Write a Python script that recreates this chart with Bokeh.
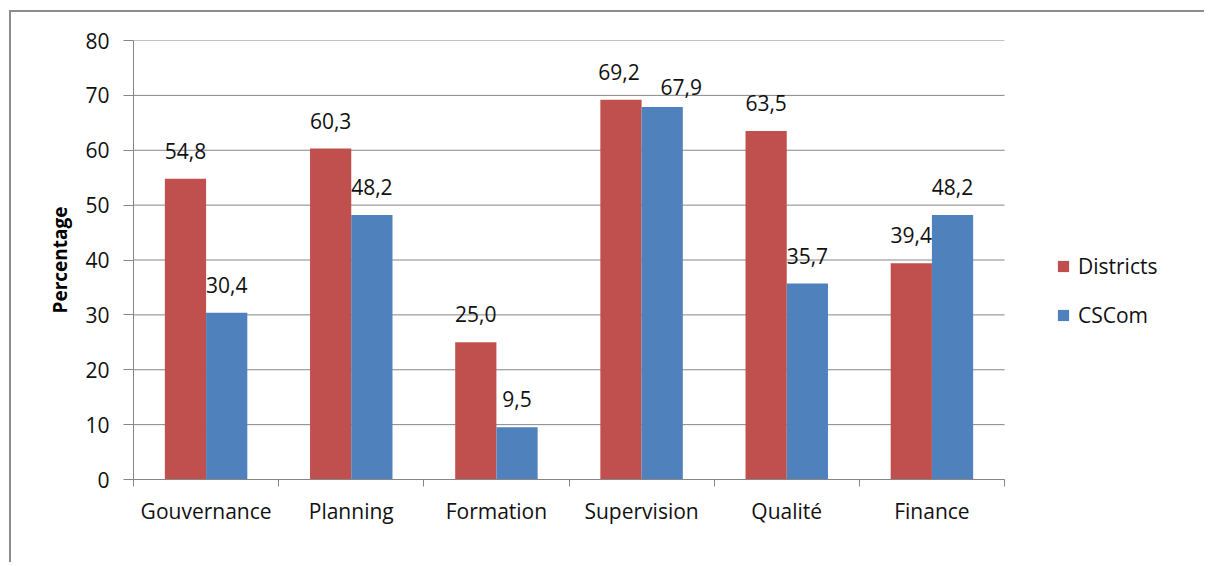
import numpy as np
from bokeh.plotting import figure
from bokeh.models import (Range1d, FixedTicker, ColumnDataSource, Legend, LegendItem)
from bokeh.transform import dodge
from bokeh.core.properties import value
from bokeh.embed import file_html
from bokeh.resources import INLINE

categories = ["Gouvernance", "Planning", "Formation", "Supervision", "Qualité", "Finance"]
districts = [54.8, 60.3, 25.0, 69.2, 63.5, 39.4]
cscom = [30.4, 48.2, 9.5, 67.9, 35.7, 48.2]
series_names = ["Districts", "CSCom"]
y_ticks = [0, 10, 20, 30, 40, 50, 60, 70, 80]

RED = "#C0504D"
BLUE = "#4F81BD"
GRID = "#868686"
FONT = "Open Sans"

def fmt(v):
    return f"{v:.1f}".replace(".", ",")

n = len(categories)
pos = np.arange(n) + 0.5

# label nudges (pixels), as placed in the reference to avoid overlap
nudge = {("CSCom", "Supervision"): (19, 8), ("Districts", "Supervision"): (-2, 0)}
def nud(series, k):
    return [nudge.get((series, c), (0, 0))[k] for c in categories]

src = ColumnDataSource(dict(
    x=pos, d=districts, c=cscom,
    dl=[fmt(v) for v in districts], cl=[fmt(v) for v in cscom],
    ddx=nud("Districts", 0), ddy=[v - 20 for v in nud("Districts", 1)],
    cdx=nud("CSCom", 0), cdy=[v - 20 for v in nud("CSCom", 1)],
))

# frame spans 133..1204 px; the categories occupy 133..1004 px
x_end = n * 1071 / 871

p = figure(width=1195, height=552, output_backend="svg", toolbar_location=None,
           x_range=Range1d(0, x_end), y_range=Range1d(0, 80),
           min_border_left=122, min_border_right=2, min_border_top=28,
           min_border_bottom=85)
p.styles = {"border-top": "2px solid #8c8c8c", "border-left": "2px solid #8c8c8c",
            "margin-left": "9px", "margin-top": "10px"}
p.outline_line_color = None
p.background_fill_color = "white"
p.border_fill_color = "white"

# horizontal gridlines limited to the category area
p.segment(x0=[0] * len(y_ticks), x1=[n] * len(y_ticks), y0=y_ticks, y1=y_ticks,
          line_color=GRID, line_width=1)

W = 0.284
r1 = p.vbar(x=dodge("x", -0.142, range=p.x_range), top="d", width=W, source=src,
            fill_color=RED, line_color=None)
r2 = p.vbar(x=dodge("x", 0.142, range=p.x_range), top="c", width=W, source=src,
            fill_color=BLUE, line_color=None)

for col, lab, off, dx, dy in (("d", "dl", -0.142, "ddx", "ddy"), ("c", "cl", 0.142, "cdx", "cdy")):
    p.text(x=dodge("x", off, range=p.x_range), y=col, text=lab, source=src,
           x_offset=dx, y_offset=dy,
           text_align="center", text_baseline="bottom",
           text_font=value(FONT), text_font_size="21px", text_color="#111111")

# y axis
p.yaxis.ticker = FixedTicker(ticks=y_ticks)
p.yaxis.major_tick_out = 10
p.yaxis.major_tick_in = 0
p.yaxis.minor_tick_line_color = None
p.yaxis.axis_line_color = GRID
p.yaxis.major_tick_line_color = GRID
p.yaxis.major_label_standoff = 14
p.yaxis.major_label_text_font = FONT
p.yaxis.major_label_text_font_size = "21px"
p.yaxis.major_label_text_color = "#111111"
p.yaxis.axis_label = "Percentage"
p.yaxis.axis_label_text_font = FONT
p.yaxis.axis_label_text_font_size = "19px"
p.yaxis.axis_label_text_font_style = "bold"
p.yaxis.axis_label_text_color = "#000000"
p.yaxis.axis_label_standoff = 9

# x axis: labels at centres, ticks at boundaries
p.xaxis.ticker = FixedTicker(ticks=list(pos), minor_ticks=list(range(n + 1)))
p.xaxis.major_label_overrides = {float(x): c for x, c in zip(pos, categories)}
p.xaxis.bounds = (0, n)
p.xaxis.major_tick_out = 0
p.xaxis.major_tick_in = 0
p.xaxis.minor_tick_out = 7
p.xaxis.minor_tick_in = 0
p.xaxis.minor_tick_line_color = GRID
p.xaxis.axis_line_color = GRID
p.xaxis.major_label_standoff = 10
p.xaxis.major_label_text_font = FONT
p.xaxis.major_label_text_font_size = "21px"
p.xaxis.major_label_text_color = "#111111"

p.xgrid.grid_line_color = None
p.ygrid.grid_line_color = None

legend = Legend(items=[LegendItem(label=series_names[0], renderers=[r1]),
                       LegendItem(label=series_names[1], renderers=[r2])],
                location=(923, 150), orientation="vertical",
                glyph_width=14, glyph_height=14, label_height=20,
                label_standoff=8, spacing=21, padding=0, margin=0,
                border_line_color=None, background_fill_alpha=0,
                label_text_font=FONT, label_text_font_size="21px",
                label_text_color="#111111")
p.add_layout(legend, "center")

open("out.html", "w").write(file_html(p, INLINE))
